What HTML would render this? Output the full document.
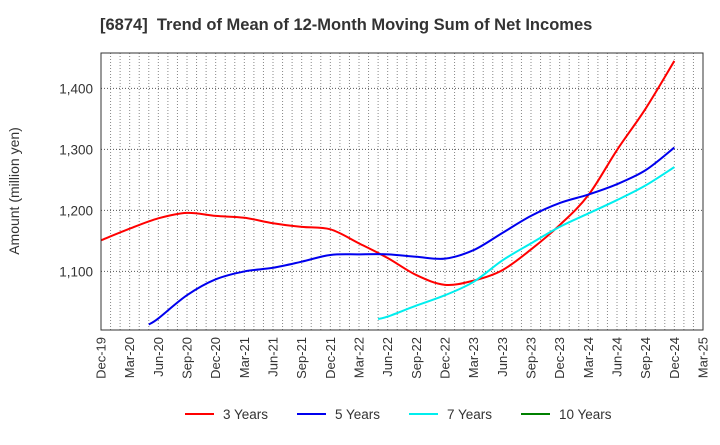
<!DOCTYPE html>
<html><head><meta charset="utf-8"><style>
body{margin:0;background:#fff;font-family:"Liberation Sans",Arial,sans-serif;}
</style></head><body>
<svg id="chart" width="720" height="440" xmlns="http://www.w3.org/2000/svg" font-family="Liberation Sans, Arial, sans-serif">
<text x="100" y="30" font-size="16.5" font-weight="bold" fill="#333">[6874]&#160; Trend of Mean of 12-Month Moving Sum of Net Incomes</text>
<text transform="translate(19,191) rotate(-90)" text-anchor="middle" font-size="14" fill="#333">Amount (million yen)</text>
<g id="grid"></g><g id="series"></g><g id="axes"></g><g id="legend"></g>
</svg>
<script>
const xLabels=["Dec-19","Mar-20","Jun-20","Sep-20","Dec-20","Mar-21","Jun-21","Sep-21","Dec-21","Mar-22","Jun-22","Sep-22","Dec-22","Mar-23","Jun-23","Sep-23","Dec-23","Mar-24","Jun-24","Sep-24","Dec-24","Mar-25"];
const yTicks=[1100,1200,1300,1400];
// month indices (0 = Dec-19) and values
const red3Months=[0,3,6,9,12,15,18,21,24,27,30,33,36,39,42,45,48,51,54,57,60];
const red3Values=[1151,1170,1187,1196,1191,1188,1179,1173,1169,1146,1122,1094,1078,1085,1102,1136,1176,1225,1299,1367,1445];
const blue5Months=[5,6,9,12,15,18,21,24,27,30,33,36,39,42,45,48,51,54,57,60];
const blue5Values=[1013,1023,1061,1087,1100,1106,1116,1127,1128,1128,1124,1121,1135,1163,1191,1212,1226,1243,1266,1303];
const cyan7Months=[29,30,33,36,39,42,45,48,51,54,57,60];
const cyan7Values=[1022,1026,1044,1061,1083,1118,1146,1173,1195,1217,1241,1271];
const L=101,R=703,T=53,B=330,yMin=1004,yMax=1458,nMonths=63;
const X=m=>L+(R-L)*m/nMonths;
const Y=v=>B-(v-yMin)/(yMax-yMin)*(B-T);
const NS="http://www.w3.org/2000/svg";
function mk(tag,attrs,parent){const e=document.createElementNS(NS,tag);for(const k in attrs)e.setAttribute(k,attrs[k]);parent.appendChild(e);return e;}
const grid=document.getElementById('grid'),axes=document.getElementById('axes'),ser=document.getElementById('series'),leg=document.getElementById('legend');
for(let m=1;m<nMonths;m++){const g=mk('line',{x1:X(m),x2:X(m),y1:T,y2:B,stroke:'#888','stroke-width':1,'stroke-dasharray':'1,2'},grid);

}
yTicks.forEach(v=>{const g=mk('line',{x1:L,x2:R,y1:Y(v),y2:Y(v),stroke:'#555','stroke-width':1,'stroke-dasharray':'1,2'},grid);


const t=mk('text',{x:L-8,y:Y(v)+5,'text-anchor':'end','font-size':13.5,fill:'#333'},axes);t.textContent=v.toLocaleString('en-US');

});
xLabels.forEach((s,i)=>{const x=X(i*3);const t=mk('text',{transform:`translate(${x+4.5},337) rotate(-90)`,'text-anchor':'end','font-size':13,fill:'#333'},axes);t.textContent=s;

});
const frame=mk('rect',{x:L,y:T,width:R-L,height:B-T,fill:'none',stroke:'#333','stroke-width':1},axes);


function smooth(ms,vs){const p=ms.map((m,i)=>[X(m),Y(vs[i])]);let d=`M${p[0][0]},${p[0][1]}`;
for(let i=0;i<p.length-1;i++){const p0=p[i-1]||p[i],p1=p[i],p2=p[i+1],p3=p[i+2]||p2;
d+=` C${p1[0]+(p2[0]-p0[0])/6},${p1[1]+(p2[1]-p0[1])/6} ${p2[0]-(p3[0]-p1[0])/6},${p2[1]-(p3[1]-p1[1])/6} ${p2[0]},${p2[1]}`;}return d;}
[[red3Months,red3Values,'#ff0000','series-3-years'],[blue5Months,blue5Values,'#0000ee','series-5-years'],[cyan7Months,cyan7Values,'#00eeee','series-7-years']].forEach(([m,v,c,n])=>{
const p=mk('path',{d:smooth(m,v),fill:'none',stroke:c,'stroke-width':2},ser);

});
[['3 Years','#ff0000',185],['5 Years','#0000ee',297],['7 Years','#00eeee',409],['10 Years','#008000',521]].forEach(([s,c,x])=>{
const l=mk('line',{x1:x,x2:x+29,y1:414,y2:414,stroke:c,'stroke-width':2},leg);


const t=mk('text',{x:x+38,y:419,'font-size':13.5,fill:'#333'},leg);t.textContent=s;

});
</script>
</body></html>
